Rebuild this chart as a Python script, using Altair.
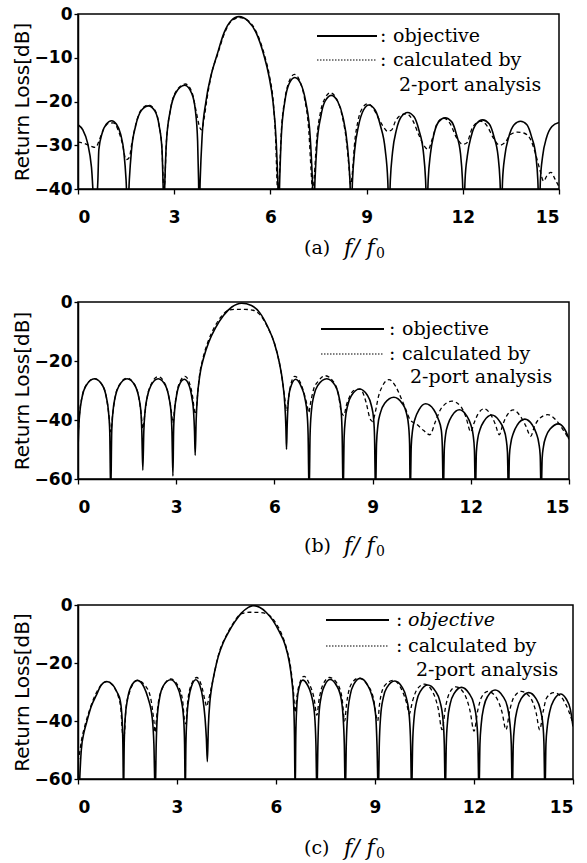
import altair as alt
import pandas as pd

# ---------------- data ----------------
X_TICKS = [0, 3, 6, 9, 12, 15]
A_Y_TICKS = [0, -10, -20, -30, -40]
BC_Y_TICKS = [0, -20, -40, -60]
SERIES = ["objective", "calculated by 2-port analysis"]
PANEL_LABELS = ["(a)", "(b)", "(c)"]

# panel (a) objective
A_OBJ_F = [0, 0.15, 0.3, 0.42, 0.53, 0.62, 0.65, 0.75, 0.88, 1.05, 1.2, 1.33, 1.43, 1.5, 1.55,
           1.6, 1.67, 1.8, 1.98, 2.2, 2.4, 2.53, 2.62, 2.65, 2.68,
           2.71, 2.76, 2.88, 3.05, 3.33, 3.55, 3.66, 3.73, 3.76, 3.78,
           3.81, 3.87, 3.99, 4.15, 4.33, 4.56, 4.78, 5.02, 5.3, 5.55, 5.8, 5.95, 6.08, 6.18, 6.23, 6.26,
           6.29, 6.34, 6.45, 6.58, 6.76, 6.95, 7.1, 7.24, 7.31, 7.35,
           7.39, 7.45, 7.57, 7.7, 7.9, 8.1, 8.26, 8.4, 8.48, 8.52,
           8.56, 8.63, 8.75, 8.9, 9.07, 9.27, 9.43, 9.58, 9.66, 9.7,
           9.74, 9.81, 9.93, 10.08, 10.28, 10.48, 10.63, 10.77, 10.84, 10.88,
           10.92, 10.99, 11.1, 11.25, 11.45, 11.65, 11.8, 11.93, 11.99, 12.03,
           12.07, 12.14, 12.26, 12.42, 12.62, 12.82, 12.97, 13.1, 13.16, 13.2,
           13.24, 13.31, 13.43, 13.6, 13.8, 14.0, 14.15, 14.28, 14.34, 14.38,
           14.42, 14.49, 14.61, 14.78, 15.0]
A_OBJ_RL = [-25.3, -26.5, -29.5, -35, -46, -38, -31, -27.3, -25.2, -24.4, -25.2, -27.5, -31.5, -38, -46,
            -38, -31, -25.5, -22, -21, -22.2, -25.5, -31, -38, -46,
            -38, -29, -22, -18, -16.3, -18.2, -22, -29, -38, -46,
            -38, -28, -20, -14, -9.5, -4.2, -1.5, -0.6, -1.6, -4.2, -9.5, -14, -20, -29, -38, -46,
            -38, -28, -20, -16, -14.5, -16, -20, -28, -38, -46,
            -38, -30, -23.5, -20, -18.6, -20, -23.5, -30, -38, -46,
            -38, -31, -25.5, -22, -20.8, -22, -25.5, -31, -38, -46,
            -38, -31.5, -26.5, -23.5, -22.5, -23.5, -26.5, -31.5, -38, -46,
            -38, -32, -27.5, -24.6, -23.7, -24.6, -27.5, -32, -38, -46,
            -38, -32.5, -28, -25.1, -24.2, -25.1, -28, -32.5, -38, -46,
            -38, -32.5, -28.2, -25.3, -24.5, -25.3, -28.2, -32.5, -38, -46,
            -38, -32.5, -28.3, -25.7, -24.8]

# panel (a) calculated by 2-port analysis
A_CAL_F = [0, 0.2, 0.4, 0.55, 0.68, 0.8, 0.95, 1.1, 1.25, 1.38, 1.5, 1.6, 1.68, 1.8, 1.98, 2.2,
           2.4, 2.53, 2.62, 2.67, 2.7, 2.75, 2.88, 3.05, 3.35, 3.55, 3.65, 3.72, 3.8, 3.86, 3.93,
           4.02, 4.17, 4.35, 4.58, 4.8, 5.05, 5.32, 5.58, 5.83, 5.98, 6.1, 6.17, 6.21, 6.24,
           6.28, 6.34, 6.45, 6.58, 6.75, 6.93, 7.07, 7.2, 7.27, 7.32, 7.37, 7.44, 7.56, 7.7, 7.87,
           8.07, 8.23, 8.37, 8.45, 8.5, 8.56, 8.62, 8.73, 8.87, 9.03, 9.2, 9.35, 9.5, 9.65, 9.78,
           9.9, 10.05, 10.25, 10.45, 10.62, 10.8, 10.92, 11.05, 11.2, 11.4, 11.6, 11.8, 12.0,
           12.12, 12.3, 12.55, 12.75, 12.95, 13.15, 13.3, 13.5, 13.7, 13.9, 14.1, 14.25, 14.4,
           14.52, 14.62, 14.75, 14.88, 15.0]
A_CAL_RL = [-29.3, -29.6, -30.2, -30.5, -28.5, -26.3, -25, -24.9, -26.5, -29.5, -33.3, -32.8, -29.5, -25.3, -21.8, -20.8,
            -22, -25.5, -31, -39, -39, -30, -22, -17.8, -16, -17.8, -21, -23.5, -26, -26.5, -24,
            -19.5, -13.5, -9.3, -4.2, -1.5, -0.8, -1.6, -4.4, -9.8, -14.5, -21, -30, -39, -42,
            -37, -27, -19.5, -15.5, -13.8, -15.6, -19.5, -27, -36, -41, -37, -29, -22.5, -19.3, -18,
            -19.5, -23, -29, -35, -39, -36, -30, -24.5, -21.5, -20.5, -21.5, -23.5, -25.5, -26.8, -26.5,
            -24.5, -23.2, -22.8, -24.5, -27.5, -30.2, -31, -28.5, -25, -23.8, -25, -28.2, -29.8,
            -29.5, -26, -24.5, -25.5, -28.3, -30, -29.5, -27.5, -27, -27.2, -28.5, -31.5, -35.5,
            -38.2, -37, -36.2, -37.8, -39.5]

# panel (b) objective
B_OBJ_F = [0, 0.02, 0.06, 0.12, 0.25, 0.5, 0.75, 0.87, 0.93, 0.97, 1.0,
           1.03, 1.07, 1.13, 1.26, 1.5, 1.74, 1.86, 1.92, 1.95, 1.98,
           2.01, 2.05, 2.11, 2.23, 2.45, 2.67, 2.78, 2.84, 2.87, 2.9,
           2.92, 2.95, 3.0, 3.08, 3.25, 3.4, 3.48, 3.53, 3.56, 3.58,
           3.61, 3.65, 3.72, 3.85, 4.0, 4.2, 4.45, 4.7, 5.0, 5.3, 5.55, 5.8, 6.0, 6.15, 6.25, 6.32, 6.35, 6.37,
           6.39, 6.42, 6.48, 6.65, 6.82, 6.93, 7.0, 7.03, 7.06,
           7.09, 7.13, 7.2, 7.33, 7.6, 7.85, 7.97, 8.04, 8.07, 8.1,
           8.13, 8.17, 8.24, 8.36, 8.6, 8.84, 8.96, 9.03, 9.06, 9.09,
           9.12, 9.16, 9.24, 9.37, 9.65, 9.9, 10.03, 10.1, 10.13, 10.15,
           10.18, 10.22, 10.3, 10.42, 10.62, 10.87, 11.0, 11.1, 11.13, 11.16,
           11.19, 11.23, 11.31, 11.43, 11.65, 11.87, 11.99, 12.07, 12.11, 12.14,
           12.17, 12.21, 12.29, 12.41, 12.64, 12.87, 13.0, 13.08, 13.12, 13.15,
           13.18, 13.22, 13.3, 13.42, 13.65, 13.88, 14.0, 14.08, 14.12, 14.15,
           14.18, 14.22, 14.3, 14.43, 14.68, 14.85, 14.95, 15.0]
B_OBJ_RL = [-50, -43, -37, -32.5, -28.3, -26, -28.3, -32.5, -37, -44, -66,
            -44, -37, -32.5, -28.3, -26, -28.3, -32.5, -37, -44, -57,
            -44, -37, -32.5, -28.3, -26, -28.3, -32.5, -37, -44, -59,
            -44, -37, -32.5, -28.5, -26.2, -28.5, -32.5, -37, -44, -52,
            -40, -32, -25, -18.5, -13.5, -8.8, -4.5, -1.7, -0.4, -1.2, -3.6, -8.5, -14, -20.5, -27, -35, -42, -50,
            -42, -34.5, -29.5, -26.2, -28.7, -32.5, -38, -45, -66,
            -45, -37, -32, -28.2, -26, -28.2, -32, -37, -45, -66,
            -46, -39.5, -35, -31.6, -29.5, -31.6, -35, -39.5, -46, -66,
            -48, -42, -37.5, -34.3, -32.3, -34.3, -37.5, -42, -48, -66,
            -49, -43.5, -39.5, -36.5, -34.5, -36.5, -39.5, -43.5, -49, -66,
            -50, -45, -41.3, -38.5, -36.5, -38.5, -41.3, -45, -50, -66,
            -51, -46.5, -43, -40.3, -38.3, -40.3, -43, -46.5, -51, -66,
            -52, -48, -44.5, -41.7, -39.7, -41.7, -44.5, -48, -52, -66,
            -53, -49, -45.5, -43, -41.3, -42.8, -45, -46.5]

# panel (b) calculated by 2-port analysis
B_CAL_F = [0, 0.02, 0.06, 0.12, 0.25, 0.5, 0.75, 0.87, 0.94, 1.0, 1.06, 1.13, 1.26, 1.5, 1.74, 1.86,
           1.93, 1.98, 2.04, 2.11, 2.23, 2.45, 2.67, 2.78, 2.85, 2.9, 2.95, 3.0, 3.08, 3.27, 3.42,
           3.5, 3.56, 3.6, 3.64, 3.7, 3.82, 3.97, 4.17, 4.4, 4.6, 4.8, 5.1, 5.35, 5.55, 5.8, 6.0,
           6.15, 6.25, 6.32, 6.38, 6.44, 6.5, 6.62, 6.8, 6.92, 7.0, 7.05, 7.1, 7.2, 7.33, 7.55,
           7.8, 7.95, 8.05, 8.12, 8.2, 8.3, 8.42, 8.62, 8.8, 8.92, 9.0, 9.08, 9.18, 9.3, 9.5,
           9.7, 9.85, 10.0, 10.15, 10.35, 10.55, 10.75, 10.92, 11.1, 11.42, 11.7, 11.85, 12.0,
           12.1, 12.22, 12.4, 12.6, 12.75, 12.87, 12.98, 13.1, 13.3, 13.5, 13.68, 13.83, 13.95,
           14.1, 14.35, 14.6, 14.8, 15.0]
B_CAL_RL = [-48, -42, -36.5, -32.3, -28.2, -26, -28.3, -32.5, -38, -44, -38, -32.5, -28.2, -25.8, -28.2, -32.5,
            -38, -43, -38, -32.5, -28, -25.3, -28, -32.3, -37, -41, -36, -32, -28, -25.2, -28,
            -32, -37, -38, -33, -26, -19, -13.5, -8.5, -4.6, -2.8, -2.5, -2.5, -2.8, -4.2, -8.7, -14,
            -20.5, -27, -33, -37, -32, -28, -25.2, -27.5, -31.5, -35, -37.5, -34.5, -29.5, -27, -25,
            -27, -31, -37.5, -38.5, -35, -32, -30, -29.5, -34, -39.5, -40.5, -37.5, -32, -28.5, -26.3,
            -28.5, -32, -36, -40, -41.5, -43.5, -45, -40.5, -36, -33.6, -35.5, -39, -44,
            -41, -38, -36.2, -38, -41.5, -45, -41.5, -38.5, -36.6, -38.5, -42, -45.5, -42,
            -39.5, -38.2, -40, -43, -46.5]

# panel (c) objective
C_OBJ_F = [0.03, 0.06, 0.1, 0.18, 0.26, 0.4, 0.56, 0.7, 0.87, 1.05, 1.18, 1.28, 1.34, 1.36, 1.38,
           1.4, 1.43, 1.5, 1.6, 1.8, 2.0, 2.12, 2.25, 2.3, 2.34,
           2.37, 2.4, 2.47, 2.58, 2.81, 3.0, 3.12, 3.2, 3.23, 3.25,
           3.27, 3.3, 3.36, 3.44, 3.57, 3.7, 3.78, 3.85, 3.89, 3.92,
           3.95, 4.0, 4.05, 4.15, 4.25, 4.4, 4.55, 4.75, 4.95, 5.15, 5.3, 5.5, 5.7, 5.9, 6.1, 6.27,
           6.4, 6.48, 6.53, 6.56, 6.58,
           6.6, 6.63, 6.68, 6.81, 6.95, 7.07, 7.17, 7.21, 7.24,
           7.27, 7.3, 7.38, 7.48, 7.64, 7.82, 7.95, 8.03, 8.07, 8.1,
           8.13, 8.17, 8.25, 8.36, 8.55, 8.76, 8.9, 9.02, 9.06, 9.1,
           9.13, 9.17, 9.25, 9.37, 9.6, 9.82, 9.95, 10.04, 10.08, 10.11,
           10.14, 10.18, 10.26, 10.38, 10.6, 10.83, 10.97, 11.06, 11.1, 11.13,
           11.16, 11.2, 11.28, 11.4, 11.62, 11.85, 11.99, 12.08, 12.12, 12.15,
           12.18, 12.22, 12.3, 12.42, 12.64, 12.87, 13.01, 13.09, 13.13, 13.16,
           13.19, 13.23, 13.31, 13.43, 13.66, 13.88, 14.01, 14.09, 14.12, 14.15,
           14.18, 14.22, 14.3, 14.42, 14.62, 14.8, 14.92, 15.0]
C_OBJ_RL = [-66, -58, -50, -44, -40.5, -35, -31, -27.7, -26.4, -27.5, -30, -33, -40, -48, -66,
            -48, -39, -32.5, -28.3, -26, -28.3, -32, -39, -48, -66,
            -48, -39, -32.3, -28, -25.8, -28, -32.3, -39, -48, -66,
            -48, -39, -32, -28, -25.8, -28, -32, -39, -46, -54,
            -42, -33, -28.5, -22.5, -17.8, -13, -9.6, -5.8, -2.8, -0.9, -0.2, -0.8, -2.5, -5.2, -9.2, -13.5,
            -19.5, -26, -33, -45, -66,
            -45, -35, -29.5, -25.9, -27.5, -31, -38, -48, -66,
            -48, -38, -31, -27.6, -25.7, -27.5, -31, -38, -48, -66,
            -48, -38, -31, -27.3, -25.3, -27.3, -31, -38, -48, -66,
            -48, -38.5, -32, -28.3, -26.2, -28.3, -32, -38.5, -48, -66,
            -48, -39.5, -33.3, -29.7, -27.6, -29.7, -33.3, -39.5, -48, -66,
            -48, -40, -34, -30.5, -28.4, -30.5, -34, -40, -48, -66,
            -48, -41, -35, -31.4, -29.3, -31.4, -35, -41, -48, -66,
            -48, -41.5, -36, -32.3, -30.2, -32.3, -36, -41.5, -48, -66,
            -48, -42, -36.5, -32.8, -30.7, -32.5, -36, -41.9]

# panel (c) calculated by 2-port analysis
C_CAL_F = [0, 0.05, 0.1, 0.2, 0.3, 0.45, 0.6, 0.87, 1.1, 1.22, 1.3, 1.36, 1.4, 1.45, 1.55, 1.79,
           2.05, 2.2, 2.3, 2.34, 2.38, 2.48, 2.81, 3.05, 3.17, 3.23, 3.27, 3.31, 3.4, 3.6, 3.76,
           3.85, 3.9, 3.95, 4.04, 4.25, 4.55, 4.75, 4.95, 5.2, 5.55, 5.75, 5.95, 6.15, 6.32, 6.45,
           6.53, 6.58, 6.62, 6.68, 6.85, 7.02, 7.15, 7.24, 7.3, 7.42, 7.62, 7.85, 8.0, 8.08, 8.14,
           8.27, 8.5, 8.75, 8.95, 9.08, 9.14, 9.28, 9.55, 9.8, 9.95, 10.04, 10.14, 10.28, 10.5,
           10.75, 10.92, 11.03, 11.14, 11.25, 11.45, 11.7, 11.88, 12.0, 12.12, 12.22, 12.42, 12.65,
           12.85, 12.97, 13.08, 13.2, 13.43, 13.68, 13.88, 13.99, 14.1, 14.2, 14.42, 14.65, 14.85, 15.0]
C_CAL_RL = [-54, -51, -47, -42, -38, -33, -29.3, -26.4, -28.5, -31.5, -36, -45, -45, -36, -30.5, -26,
            -28, -32, -40, -44, -39, -31, -25.5, -28.3, -33, -40, -41, -35, -28.5, -25, -28.5,
            -33, -35, -33, -28.5, -17.5, -9.3, -5.5, -3.0, -2.5, -2.6, -3.2, -5.5, -9.5, -15, -22,
            -30, -37, -33, -28.5, -24.6, -27.5, -32, -38, -33, -27.5, -25, -27, -32, -40, -34,
            -27.5, -25.2, -27.3, -32, -40, -34, -28, -26, -29, -33.5, -37.5, -33, -29, -27.3,
            -30, -36, -43, -35, -30.5, -28.2, -30.5, -36.5, -43.5, -36, -32, -29.8, -31.5,
            -37, -43, -36.5, -32, -29.8, -31.5, -37, -43, -36.5, -32, -30.2, -31.8, -36, -40.8]

# ---------------- styling ----------------
SANS = "DejaVu Sans"
SERIF = "DejaVu Serif"


def one(**kw):
    return pd.DataFrame([kw])


def panel(obj_f, obj_rl, cal_f, cal_rl, ymin, yticks, w, h, label, leg, title_y, italic_obj):
    obj = pd.DataFrame({"f": obj_f, "rl": obj_rl, "s": SERIES[0]})
    cal = pd.DataFrame({"f": cal_f, "rl": cal_rl, "s": SERIES[1]})
    xenc = alt.X("f:Q", scale=alt.Scale(domain=[0, 15], nice=False, zero=False),
                 axis=alt.Axis(values=X_TICKS, title=None, labelPadding=15, tickSize=5, format="d",
                               labelFont=SANS, labelFontSize=17, labelFontWeight="bold",
                               labelColor="black"))
    yenc = alt.Y("rl:Q", scale=alt.Scale(domain=[ymin, 0], nice=False, zero=False),
                 axis=alt.Axis(values=yticks, title="Return Loss[dB]", labelPadding=2, tickSize=4,
                               labelFont=SANS, labelFontSize=17, labelFontWeight="bold",
                               labelColor="black",
                               titlePadding=2, titleFont=SANS, titleFontSize=20, titleFontWeight="normal",
                               titleColor="black"))
    l_obj = alt.Chart(obj).mark_line(clip=True, color="black", strokeWidth=1.6,
                                     interpolate="monotone").encode(x=xenc, y=yenc)
    l_cal = alt.Chart(cal).mark_line(clip=True, color="black", strokeWidth=1.3, strokeDash=[4, 3],
                                     interpolate="monotone").encode(x=xenc, y=yenc)

    lx0, lx1, colon_x, word_x, y1, y2, y3, x3 = leg
    r1 = alt.Chart(one(k=1)).mark_rule(color="black", strokeWidth=1.8).encode(
        x=alt.value(lx0), x2=alt.value(lx1), y=alt.value(y1))
    r2 = alt.Chart(one(k=1)).mark_rule(color="black", strokeWidth=1.2, strokeDash=[1.5, 1.5]).encode(
        x=alt.value(lx0), x2=alt.value(lx1), y=alt.value(y2))
    tstyle = dict(font=SERIF, fontSize=19, align="left", baseline="middle", color="black")
    c1 = alt.Chart(one(k=1)).mark_text(text=":", **tstyle).encode(x=alt.value(colon_x), y=alt.value(y1))
    c2 = alt.Chart(one(k=1)).mark_text(text=":", **tstyle).encode(x=alt.value(colon_x), y=alt.value(y2))
    w1 = alt.Chart(one(k=1)).mark_text(text="objective", fontStyle="italic" if italic_obj else "normal",
                                       **tstyle).encode(x=alt.value(word_x), y=alt.value(y1))
    w2 = alt.Chart(one(k=1)).mark_text(text="calculated by", **tstyle).encode(
        x=alt.value(word_x), y=alt.value(y2))
    w3 = alt.Chart(one(k=1)).mark_text(text="2-port analysis", **tstyle).encode(
        x=alt.value(x3), y=alt.value(y3))

    # panel caption "(a) f/f0"
    cap_x = 226
    t1 = alt.Chart(one(k=1)).mark_text(text=label, font=SERIF, fontSize=19, align="left",
                                       baseline="middle", color="black").encode(
        x=alt.value(cap_x), y=alt.value(title_y))
    t2 = alt.Chart(one(k=1)).mark_text(text="f/ f", font=SERIF, fontSize=22, fontStyle="italic",
                                       align="left", baseline="middle", color="black").encode(
        x=alt.value(cap_x + 40), y=alt.value(title_y))
    t3 = alt.Chart(one(k=1)).mark_text(text="0", font=SERIF, fontSize=14, align="left",
                                       baseline="middle", color="black").encode(
        x=alt.value(cap_x + 72), y=alt.value(title_y + 6))

    return alt.layer(l_obj, l_cal, r1, r2, c1, c2, w1, w2, w3, t1, t2, t3).properties(width=w, height=h)


pa = panel(A_OBJ_F, A_OBJ_RL, A_CAL_F, A_CAL_RL, -40, A_Y_TICKS, 481, 175, PANEL_LABELS[0],
           (239, 299, 302, 315, 22, 46, 71, 321), 234, False)
pb = panel(B_OBJ_F, B_OBJ_RL, B_CAL_F, B_CAL_RL, -60, BC_Y_TICKS, 491, 177, PANEL_LABELS[1],
           (243, 306, 311, 324, 27, 52, 75, 332), 244, False)
pc = panel(C_OBJ_F, C_OBJ_RL, C_CAL_F, C_CAL_RL, -60, BC_Y_TICKS, 495, 174, PANEL_LABELS[2],
           (248, 311, 318, 330, 15, 41, 65, 338), 243, True)

inner = alt.vconcat(pb, pc, spacing=126, bounds="flush")
chart = alt.vconcat(pa, inner, spacing=113, bounds="flush").properties(
    padding={"left": 11, "top": 4, "right": 0, "bottom": 0},
    background="white",
).configure_view(
    stroke="black", strokeWidth=1.5
).configure_axis(
    domainColor="black", domainWidth=1.5, tickColor="black", tickWidth=1.3, grid=False,
)

chart.save("out.html", embed_options={"renderer": "svg", "actions": False})
